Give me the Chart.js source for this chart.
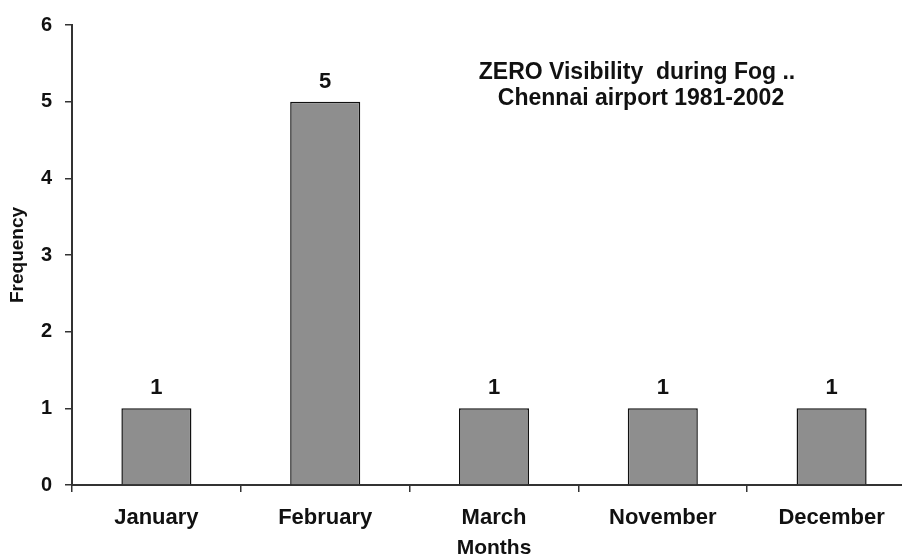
<!DOCTYPE html>
<html>
<head>
<meta charset="utf-8">
<script src="https://cdn.jsdelivr.net/npm/chart.js@4/dist/chart.umd.min.js"></script>
<style>
    html, body {margin: 0; padding: 0; background: #fff; overflow: hidden;}
    #wrap {width: 918px; height: 559px;}
</style>
</head>
<body>
<div id="wrap"><canvas id="fog_chart" width="918" height="559"></canvas></div>
<script>
var months = ['January', 'February', 'March', 'November', 'December'];
var frequency = [1, 5, 1, 1, 1];
var yTicks = [0, 1, 2, 3, 4, 5, 6];
var titleLines = ['ZERO Visibility  during Fog ..', 'Chennai airport 1981-2002'];

var font = 'Arial, "Liberation Sans", sans-serif';

// value over each bar + the title block inside the plot
var labelsPlugin = {
    id: 'labels',
    afterDatasetsDraw: function (chart) {
        var ctx = chart.ctx;
        ctx.save();
        ctx.fillStyle = '#111';
        ctx.font = 'bold 22px ' + font;
        ctx.textAlign = 'center';
        ctx.textBaseline = 'bottom';
        chart.getDatasetMeta(0).data.forEach(function (bar, i) {
            ctx.fillText(frequency[i], bar.x, bar.y - 9);
        });
        ctx.font = 'bold 23px ' + font;
        ctx.textBaseline = 'middle';
        ctx.fillText(titleLines[0], 637, 73);
        ctx.fillText(titleLines[1], 641, 99);
        ctx.restore();
    }
};

new Chart(document.getElementById('fog_chart'), {
    type: 'bar',
    data: {
        labels: months,
        datasets: [{
            data: frequency,
            backgroundColor: '#8e8e8e',
            borderColor: '#111',
            borderWidth: 1.5,
            categoryPercentage: 1,
            barPercentage: 0.415
        }]
    },
    options: {
        responsive: false,
        animation: false,
        layout: {padding: {top: 22, right: 2, left: 0, bottom: 0}},
        plugins: {legend: {display: false}, tooltip: {enabled: false}},
        scales: {
            x: {
                afterFit: function (s) { s.height = 74; },
                border: {display: true, color: '#333', width: 2},
                grid: {display: true, offset: true, drawOnChartArea: false, drawTicks: true, tickLength: 7, color: '#333', lineWidth: 1.5},
                ticks: {color: '#111', padding: 13, font: {family: font, size: 22, weight: 'bold'}},
                title: {display: true, text: 'Months', color: '#111', font: {family: font, size: 21, weight: 'bold', lineHeight: 1}, padding: {top: 2, bottom: 0}}
            },
            y: {
                min: 0,
                max: 6,
                afterFit: function (s) { s.width = 72; },
                afterBuildTicks: function (s) {
                    s.ticks = yTicks.map(function (v) { return {value: v}; });
                },
                border: {display: true, color: '#333', width: 2},
                grid: {display: true, drawOnChartArea: false, drawTicks: true, tickLength: 7, color: '#333', lineWidth: 1.5},
                ticks: {color: '#111', padding: 13, font: {family: font, size: 20, weight: 'bold'}},
                title: {display: true, text: 'Frequency', color: '#111', font: {family: font, size: 19, weight: 'bold'}, padding: {top: 6, bottom: 4}}
            }
        }
    },
    plugins: [labelsPlugin]
});
</script>
</body>
</html>
